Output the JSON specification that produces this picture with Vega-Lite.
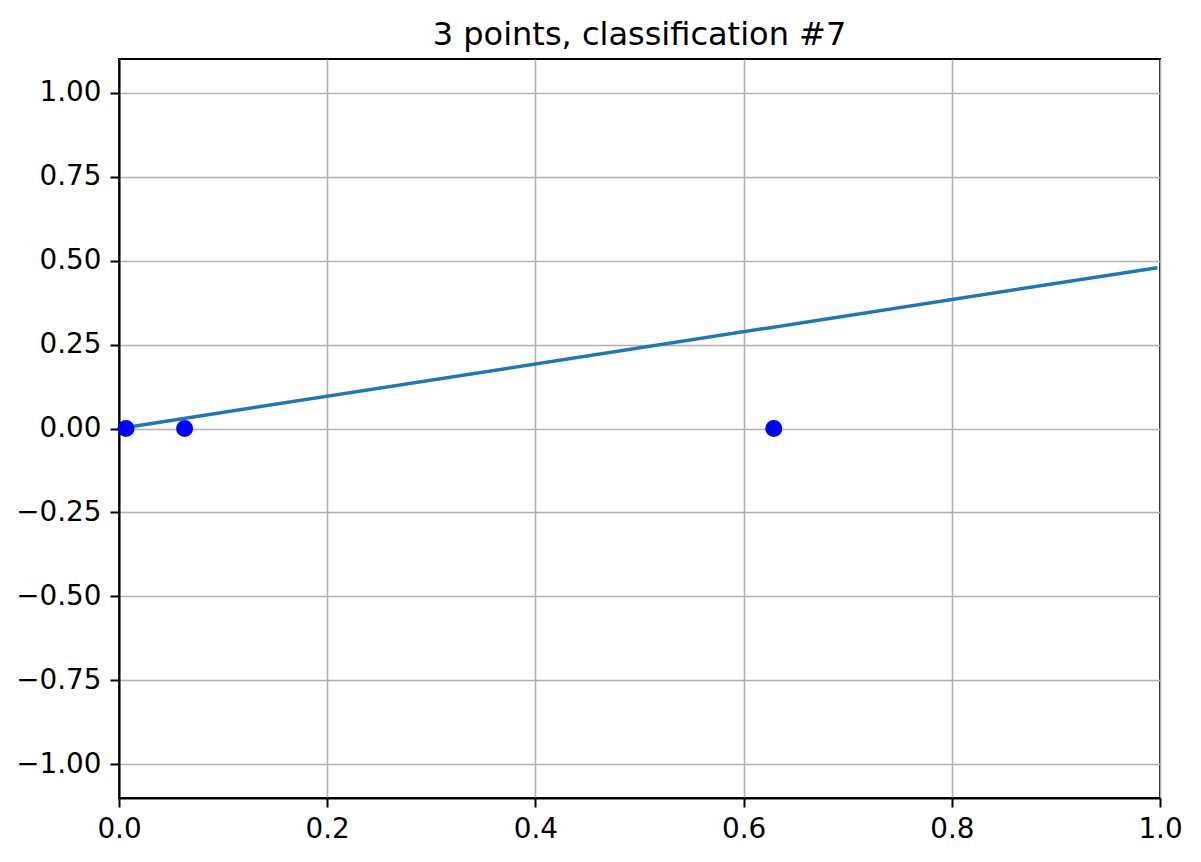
{
  "$schema": "https://vega.github.io/schema/vega-lite/v6.json",
  "autosize": {"type": "none"},
  "padding": {"left": 119, "top": 59, "right": 41, "bottom": 64},
  "width": 1041,
  "height": 739,
  "background": "white",
  "title": {
    "text": "3 points, classification #7",
    "font": "DejaVu Sans",
    "fontSize": 32,
    "fontWeight": "normal",
    "color": "black",
    "anchor": "middle",
    "baseline": "bottom",
    "offset": 8,
    "dy": 33
  },
  "config": {
    "view": {"stroke": "black", "strokeWidth": 2},
    "axis": {
      "labelFont": "DejaVu Sans",
      "labelFontSize": 27.8,
      "labelColor": "black",
      "labelFlush": false,
      "labelOverlap": false,
      "domainColor": "black",
      "domainWidth": 2,
      "tickColor": "black",
      "tickSize": 9,
      "tickWidth": 2,
      "gridColor": "#b0b0b0",
      "gridWidth": 1.6,
      "title": null
    }
  },
  "layer": [
    {
      "data": {"values": [
        {"x": 0.0067, "y": 0.0032},
        {"x": 0.9975, "y": 0.4788}
      ]},
      "mark": {"type": "line", "color": "#1f77b4", "strokeWidth": 3.5, "clip": true},
      "encoding": {
        "x": {"field": "x", "type": "quantitative", "scale": {"domain": [0, 1], "nice": false, "zero": false},
          "axis": {"values": [0, 0.2, 0.4, 0.6, 0.8, 1.0], "format": ".1f", "labelPadding": 8, "grid": true}},
        "y": {"field": "y", "type": "quantitative", "scale": {"domain": [-1.1, 1.1], "nice": false, "zero": false},
          "axis": {"values": [-1, -0.75, -0.5, -0.25, 0, 0.25, 0.5, 0.75, 1], "format": ".2f", "labelPadding": 9, "grid": true}}
      }
    },
    {
      "data": {"values": [
        {"x": 0.0067, "y": 0},
        {"x": 0.063, "y": 0},
        {"x": 0.629, "y": 0}
      ]},
      "mark": {"type": "point", "filled": true, "color": "#0000ff", "opacity": 1, "size": 290, "clip": false},
      "encoding": {
        "x": {"field": "x", "type": "quantitative"},
        "y": {"field": "y", "type": "quantitative"}
      }
    }
  ]
}
